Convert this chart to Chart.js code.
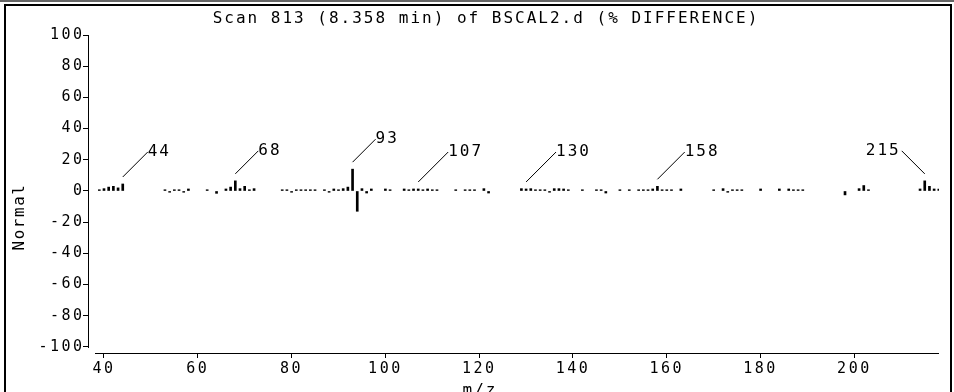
<!DOCTYPE html>
<html>
<head>
<meta charset="utf-8">
<script src="https://cdn.jsdelivr.net/npm/chart.js@4"></script>
<style>
html,body{margin:0;padding:0;background:#fff;}
#wrap{position:relative;width:954px;height:392px;overflow:hidden;}
</style>
</head>
<body>
<div id="wrap"><canvas id="c" width="954" height="392"></canvas></div>
<script>
// % difference spectrum, scan 813
const titleText = 'Scan 813 (8.358 min) of BSCAL2.d (% DIFFERENCE)';
const xTitle = 'm/z';
const yTitle = 'Normal';

const mz = [39,40,41,42,43,44, 53,54,55,56,57,58, 62,64,66,67,68,69,70,71,72,
  78,79,80,81,82,83,84,85,87,88,89,90,91,92,93,94,95,96,97, 100,101,
  104,105,106,107,108,109,110,111, 115,117,118,119,121,122,
  129,130,131,132,133,134,135,136,137,138,139, 142,145,146,147,150,152,
  154,155,156,157,158,159,160,161,163,170, 172,173,174,175,176,180,184,186,187,188,189,
  198,201,202,203, 214,215,216,217,218];
const diff = [0.8,1.5,2.5,3,2,4.5, 0.8,-0.8,0.8,0.8,-0.8,1.3, 0.8,-1.5,1.3,2.5,6.5,1.5,3,0.8,1.5,
  0.8,0.8,-0.8,0.8,0.8,0.8,0.8,0.8,0.8,-0.8,1.3,0.8,1.5,2.5,14,-13,1.5,-1.3,1.3, 1.3,0.8,
  1.3,0.8,1.3,1.3,0.8,1.3,0.8,0.8, 0.8,0.8,0.8,0.8,1.5,-1.3,
  1.5,1.3,1.5,0.8,0.8,0.8,-0.8,1.5,1.5,1.3,0.8, 0.8,0.8,0.8,-1.3,0.8,0.8,
  0.8,0.8,0.8,1.3,3,0.8,0.8,0.8,1.3,0.8, 1.5,-0.8,0.8,0.8,0.8,1.3,1.3,1.3,0.8,0.8,0.8,
  -2.5,1.5,3.5,0.8, 1.3,6.5,3,1.3,1.3];

const peakLabels = [44,68,93,107,130,158,215];
const peakLeft = [215];   // labels drawn to the left of their peak

const xTicks = [40,60,80,100,120,140,160,180,200];
const yTicks = [-100,-80,-60,-40,-20,0,20,40,60,80,100];

const mono = '"DejaVu Sans Mono", "Liberation Mono", monospace';

const decor = {
  id: 'decor',
  beforeDraw(chart) {
    chart.ctx.letterSpacing = '2.5px';
  },
  afterDraw(chart) {
    const ctx = chart.ctx, a = chart.chartArea;
    const xs = chart.scales.x, ys = chart.scales.y;
    ctx.save();
    ctx.letterSpacing = '0px';
    // window frame
    ctx.fillStyle = '#666';
    ctx.fillRect(0, 0, 954, 2);
    ctx.fillStyle = '#000';
    ctx.fillRect(4, 4, 948, 2);
    ctx.fillRect(4, 4, 2, 388);
    ctx.fillRect(950, 4, 2, 388);

    // axis lines
    ctx.strokeStyle = '#000';
    ctx.lineWidth = 1;
    ctx.beginPath();
    const yl = Math.round(a.left) + 0.5;
    ctx.moveTo(yl, Math.round(ys.getPixelForValue(100)));
    ctx.lineTo(yl, Math.round(ys.getPixelForValue(-100)) + 1);
    const xl = Math.round(a.bottom) + 0.5;
    ctx.moveTo(a.left + 7, xl);
    ctx.lineTo(a.right, xl);
    ctx.stroke();

    // peak labels with leader lines
    ctx.font = '16px ' + mono;
    ctx.letterSpacing = '2px';
    ctx.fillStyle = '#000';
    ctx.textBaseline = 'middle';
    peakLabels.forEach(m => {
      const v = diff[mz.indexOf(m)];
      const x0 = xs.getPixelForValue(m);
      const y0 = ys.getPixelForValue(v) - 7;
      const rise = Math.max(23, y0 - 152);
      const dir = peakLeft.includes(m) ? -1 : 1;
      const x1 = x0 + dir * rise, y1 = y0 - rise;
      ctx.beginPath();
      ctx.moveTo(x0, y0);
      ctx.lineTo(x1, y1);
      ctx.stroke();
      ctx.textAlign = dir > 0 ? 'left' : 'right';
      ctx.fillText(String(m), dir > 0 ? x1 : x1 - 1, y1);
    });

    // titles
    ctx.textAlign = 'center';
    ctx.fillText(titleText, 486, 19);
    ctx.fillText(xTitle, 480, 391);
    ctx.translate(20, 217);
    ctx.rotate(-Math.PI / 2);
    ctx.letterSpacing = '1.5px';
    ctx.fillText(yTitle, 0, 0);
    ctx.restore();
  }
};

new Chart(document.getElementById('c'), {
  type: 'bar',
  data: {
    datasets: [{
      data: mz.map((m, i) => ({ x: m, y: diff[i] })),
      backgroundColor: '#000',
      borderWidth: 0,
      barThickness: 2
    }]
  },
  options: {
    responsive: false,
    animation: false,
    devicePixelRatio: 1,
    layout: { padding: { top: 35, right: 15, left: 0, bottom: 0 } },
    plugins: { legend: { display: false }, tooltip: { enabled: false } },
    scales: {
      x: {
        type: 'linear', min: 36.59, max: 218.04, offset: false,
        afterBuildTicks: s => { s.ticks = xTicks.map(v => ({ value: v })); },
        afterFit: s => { s.height = 39; },
        border: { display: false },
        grid: { offset: false, drawOnChartArea: false, tickLength: 5, color: '#000', lineWidth: 1 },
        ticks: { color: '#000', font: { family: mono, size: 15 }, padding: 2, maxRotation: 0, autoSkip: false }
      },
      y: {
        min: -103.85, max: 100,
        afterBuildTicks: s => { s.ticks = yTicks.map(v => ({ value: v })); },
        afterFit: s => { s.width = 88; },
        border: { display: false },
        grid: { drawOnChartArea: false, tickLength: 5, color: '#000', lineWidth: 1 },
        ticks: { color: '#000', font: { family: mono, size: 15 }, padding: -1.5 }
      }
    }
  },
  plugins: [decor]
});
</script>
</body>
</html>
